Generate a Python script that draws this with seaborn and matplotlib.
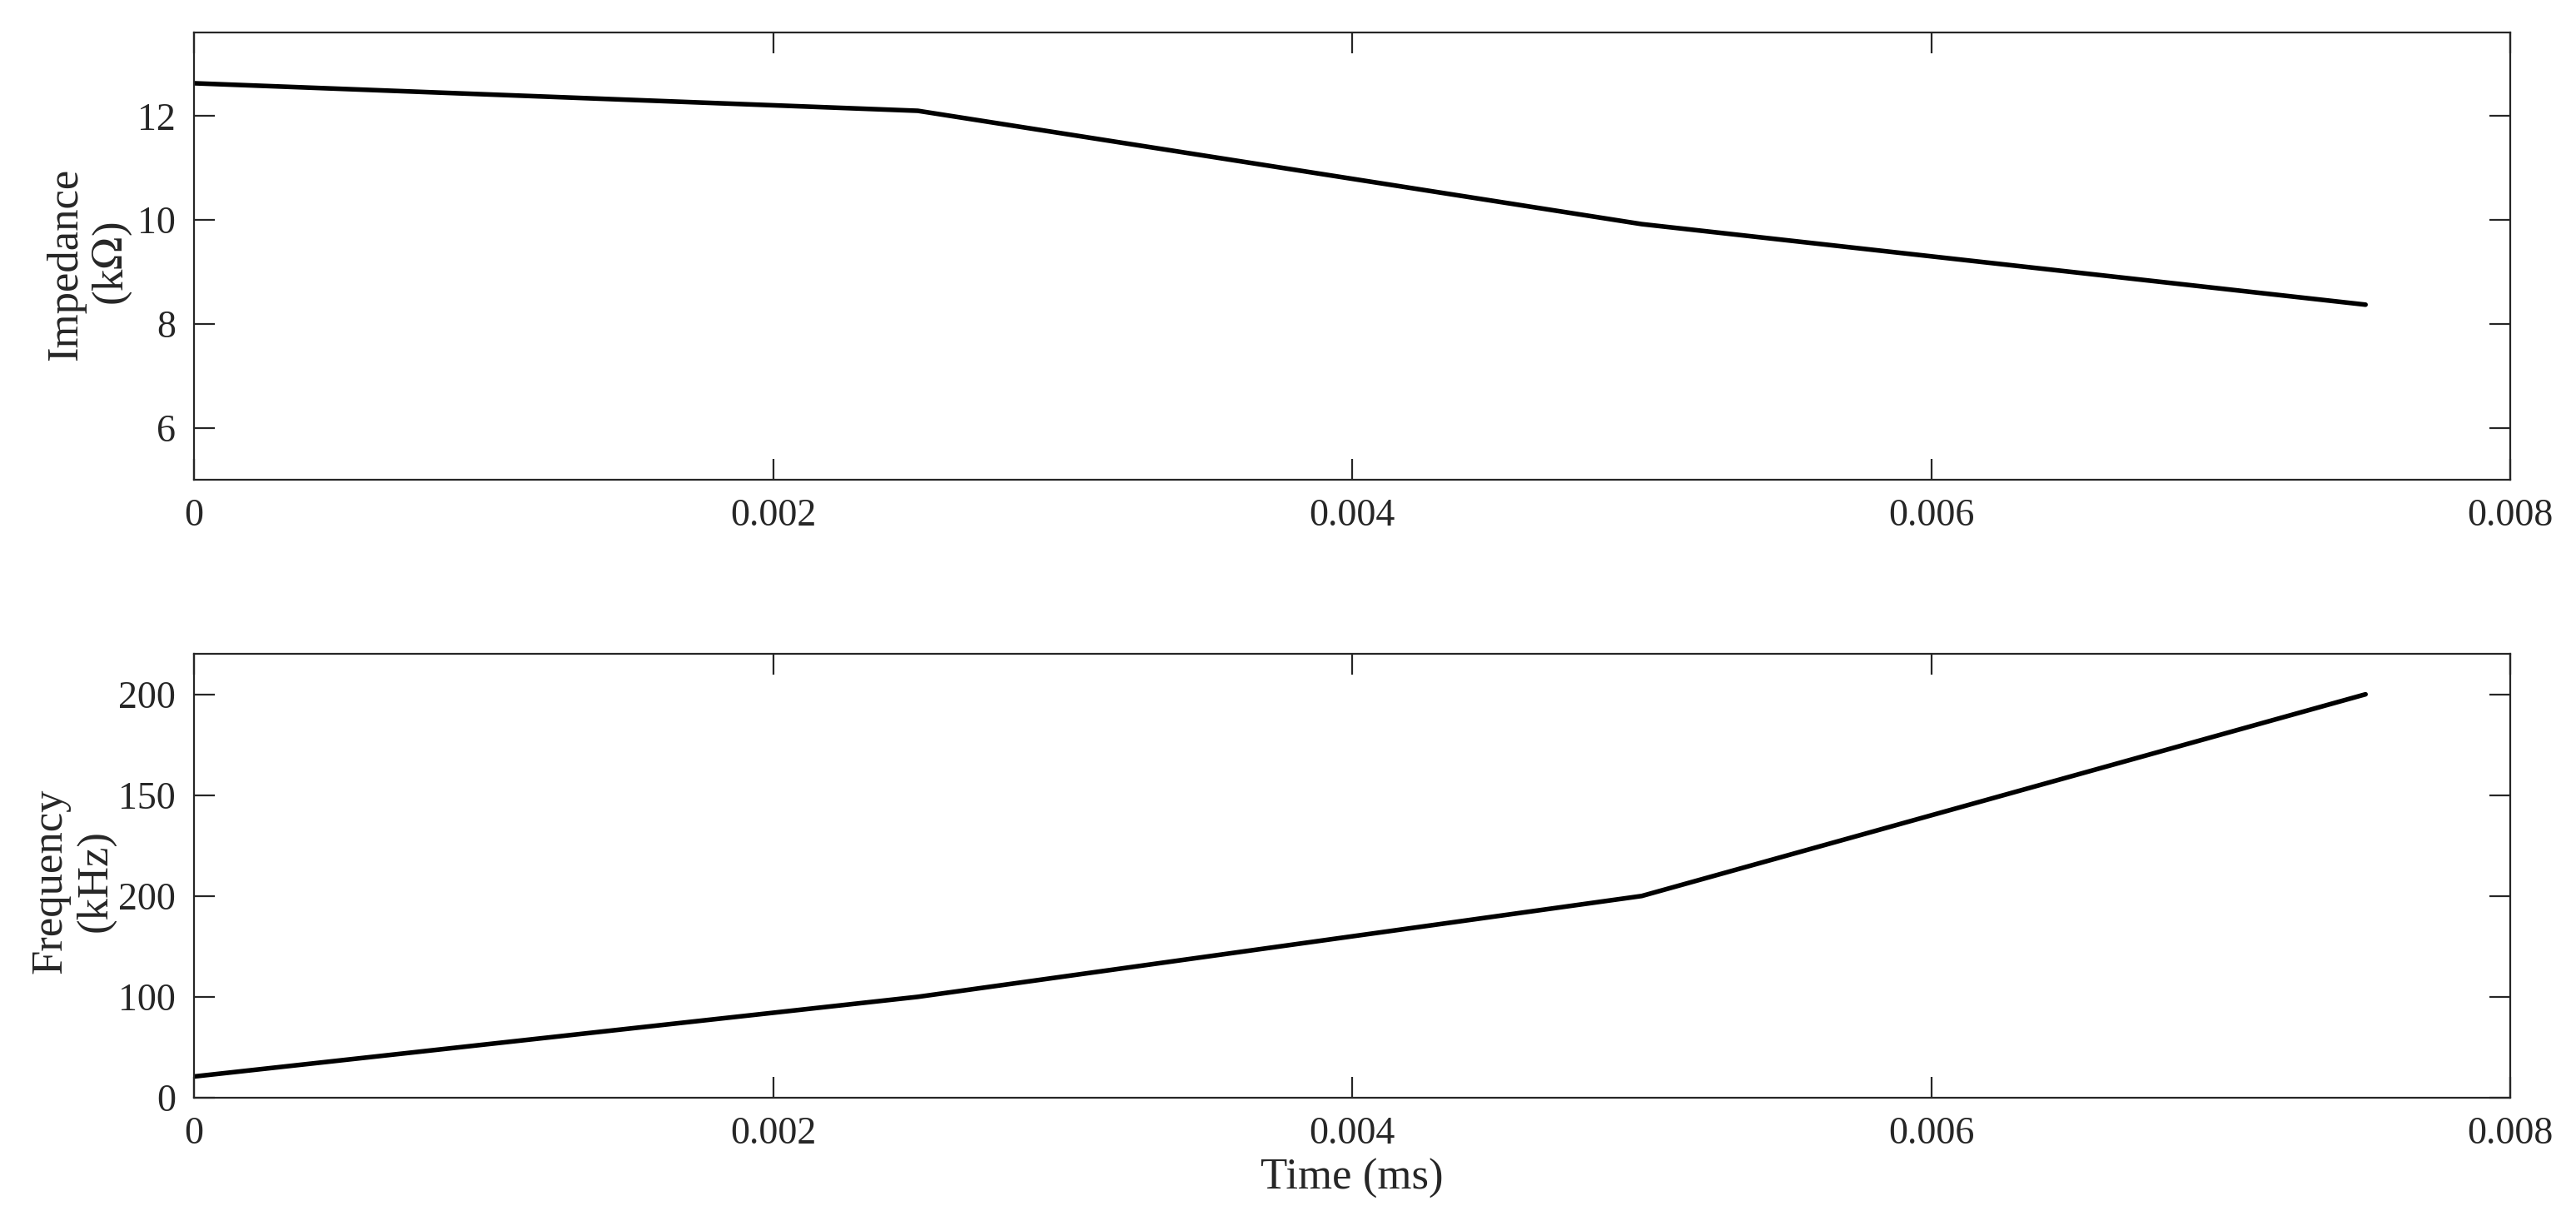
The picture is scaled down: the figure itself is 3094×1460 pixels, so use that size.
import matplotlib
matplotlib.use("Agg")
import matplotlib.pyplot as plt
import seaborn as sns
import pandas as pd

# time samples (x axis)
time_ms = [0.0, 0.0025, 0.005, 0.0075]
# impedance in kOhm
impedance = [12.63, 12.1, 9.92, 8.37]
# frequency in kHz (plotted on the axis scale)
frequency = [10.5, 50, 100, 200]

x_ticks = [0, 0.002, 0.004, 0.006, 0.008]
x_tick_labels = ["0", "0.002", "0.004", "0.006", "0.008"]
imp_ticks = [6, 8, 10, 12]
freq_ticks = [0, 50, 100, 150, 200]
freq_tick_labels = ["0", "100", "200", "150", "200"]

sns.set_theme(style="ticks")
plt.rcParams['font.family'] = ['Liberation Serif', 'DejaVu Serif']
plt.rcParams['mathtext.fontset'] = 'stix'

df = pd.DataFrame({'Time': time_ms, 'Impedance': impedance, 'Frequency': frequency})

fig = plt.figure(figsize=(15.47, 7.3), dpi=200)
ax1 = fig.add_axes([0.0753, 0.6054, 0.8992, 0.3676])
ax2 = fig.add_axes([0.0753, 0.0973, 0.8992, 0.3649])

sns.lineplot(data=df, x='Time', y='Impedance', ax=ax1, color='black', linewidth=2.0)
sns.lineplot(data=df, x='Time', y='Frequency', ax=ax2, color='black', linewidth=2.0)

for ax in (ax1, ax2):
    ax.set_xlim(0, 0.008)
    ax.set_xticks(x_ticks)
    ax.set_xticklabels(x_tick_labels)
    ax.tick_params(direction='in', length=9, width=0.8, top=True, right=True,
                   labelsize=16.5, colors='#262626', pad=8)
    for sp in ax.spines.values():
        sp.set_linewidth(0.8)
        sp.set_color('#262626')

ax1.set_ylim(5, 13.6)
ax1.set_yticks(imp_ticks)
ax1.set_xlabel('')
ax1.set_ylabel('Impedance\n(k$\\Omega$)', fontsize=19, linespacing=1.15)
ax1.yaxis.set_label_coords(-0.026, 0.483)

ax2.set_ylim(0, 220)
ax2.set_yticks(freq_ticks)
ax2.set_yticklabels(freq_tick_labels)
ax2.set_xlabel('Time (ms)', fontsize=19, labelpad=3)
ax2.set_ylabel('Frequency\n(kHz)', fontsize=19, linespacing=1.15)
ax2.yaxis.set_label_coords(-0.034, 0.488)

fig.savefig('out.png', dpi=200)
plt.close(fig)
